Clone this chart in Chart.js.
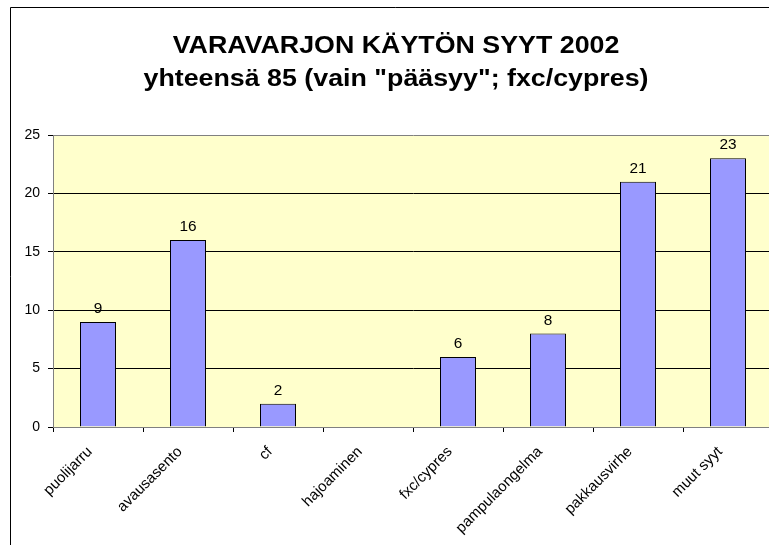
<!DOCTYPE html>
<html>
<head>
<meta charset="utf-8">
<script src="https://cdn.jsdelivr.net/npm/chart.js@4/dist/chart.umd.min.js"></script>
<style>
html,body{margin:0;padding:0;background:#fff;overflow:hidden;width:769px;height:545px;}
#wrap{position:absolute;left:0;top:0;width:780px;height:545px;}
</style>
</head>
<body>
<div id="wrap"><canvas id="c" width="780" height="545"></canvas></div>
<script>
const categories = ["puolijarru","avausasento","cf","hajoaminen","fxc/cypres","pampulaongelma","pakkausvirhe","muut syyt"];
const values = [9,16,2,0,6,8,21,23];
const yTicks = [0,5,10,15,20,25];
const titleLines = ["VARAVARJON KÄYTÖN SYYT 2002", "yhteensä 85 (vain \"pääsyy\"; fxc/cypres)"];

const FONT = "'Liberation Sans', Arial, sans-serif";

const bgPlugin = {
  id: 'bg',
  beforeDraw(chart) {
    const {ctx, chartArea:a} = chart;
    ctx.save();
    ctx.fillStyle = '#fff';
    ctx.fillRect(0,0,chart.width,chart.height);
    ctx.fillStyle = '#FFFFCC';
    ctx.fillRect(a.left, a.top, a.right-a.left, a.bottom-a.top);
    ctx.strokeStyle = '#000';
    ctx.lineWidth = 1;
    ctx.beginPath();
    ctx.moveTo(10.5, chart.height+2);
    ctx.lineTo(10.5, 7.5);
    ctx.lineTo(chart.width+2, 7.5);
    ctx.stroke();
    ctx.restore();
  }
};

// Title drawn with a slight horizontal stretch, as in the reference rendering
const titlePlugin = {
  id: 'stretchedTitle',
  afterDraw(chart) {
    const {ctx} = chart;
    const cx = 396, baselines = [53, 86], sx = 1.165;
    ctx.save();
    ctx.font = 'bold 23px ' + FONT;
    ctx.fillStyle = '#000';
    ctx.textAlign = 'center';
    ctx.textBaseline = 'alphabetic';
    titleLines.forEach((t, i) => {
      ctx.save();
      ctx.translate(cx, baselines[i]);
      ctx.scale(sx, 1);
      ctx.fillText(t, 0, 0);
      ctx.restore();
    });
    ctx.restore();
  }
};

const labelPlugin = {
  id: 'vals',
  afterDatasetsDraw(chart) {
    const {ctx} = chart;
    const meta = chart.getDatasetMeta(0);
    ctx.save();
    ctx.font = '14px ' + FONT;
    ctx.fillStyle = '#000';
    ctx.textAlign = 'center';
    ctx.textBaseline = 'alphabetic';
    meta.data.forEach((bar, i) => {
      const v = values[i];
      if (!v) return;
      ctx.save();
      ctx.translate(bar.x, bar.y - 9);
      ctx.scale(1.1, 1);
      ctx.fillText(String(v), 0, 0);
      ctx.restore();
    });
    ctx.restore();
  }
};

new Chart(document.getElementById('c'), {
  type: 'bar',
  data: {
    labels: categories,
    datasets: [{
      data: values,
      backgroundColor: '#9999FF',
      borderColor: '#000',
      borderWidth: 1,
      barPercentage: 0.4,
      categoryPercentage: 1.0
    }]
  },
  options: {
    responsive: false,
    animation: false,
    layout: { padding: { left: 10, top: 135, right: 7, bottom: 0 } },
    plugins: {
      legend: { display: false },
      tooltip: { enabled: false },
      title: { display: false }
    },
    scales: {
      x: {
        offset: true,
        grid: { offset: true, drawOnChartArea: false, drawTicks: true, tickLength: 5, color: '#000', tickColor: '#000' },
        border: { color: '#808080', width: 1 },
        ticks: { color: '#000', font: { family: FONT, size: 15 }, minRotation: 45, maxRotation: 45, autoSkip: false, padding: 11, labelOffset: -8 },
        afterFit(s) { s.height = 118; }
      },
      y: {
        min: 0, max: 25,
        afterBuildTicks(s) { s.ticks = yTicks.map(v => ({value: v})); },
        grid: {
          color: (c) => (c.tick && (c.tick.value === 25 || c.tick.value === 0)) ? '#808080' : '#000',
          tickColor: '#000',
          tickLength: 5,
          lineWidth: 1
        },
        border: { color: '#808080', width: 1 },
        ticks: { color: '#000', font: { family: FONT, size: 14 }, padding: 8 },
        afterFit(s) { s.width = 43; }
      }
    }
  },
  plugins: [bgPlugin, labelPlugin, titlePlugin]
});
</script>
</body>
</html>
